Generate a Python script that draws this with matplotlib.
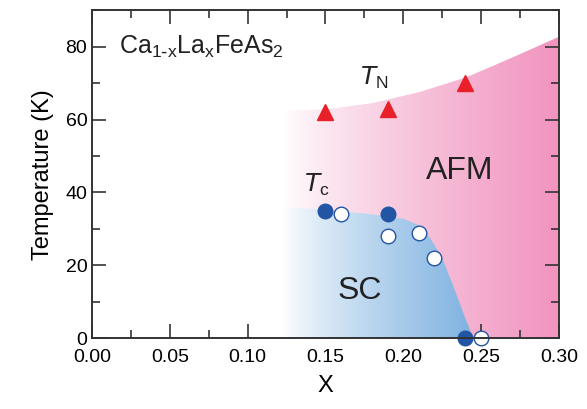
import numpy as np
import matplotlib.pyplot as plt
from matplotlib.path import Path
from matplotlib.patches import PathPatch

plt.rcParams['font.family'] = ['Liberation Sans', 'DejaVu Sans']

# Neel temperature (triangles)
tn_x = [0.15, 0.19, 0.24]
tn_y = [62, 63, 70]
# Tc filled circles
tc_fill_x = [0.15, 0.19, 0.24]
tc_fill_y = [35, 34, 0]
# Tc open circles
tc_open_x = [0.16, 0.19, 0.21, 0.22, 0.25]
tc_open_y = [34, 28, 29, 22, 0]

# AFM region upper boundary
afm_x = [0.123, 0.15, 0.18, 0.21, 0.24, 0.27, 0.30]
afm_y = [62.5, 62.8, 64.5, 67.5, 71.5, 77.0, 82.7]
# SC dome upper boundary
sc_x = [0.123, 0.15, 0.18, 0.20, 0.21, 0.217, 0.225, 0.232, 0.239, 0.245]
sc_y = [35.9, 35.3, 34.0, 32.8, 31.0, 27.7, 22.0, 14.5, 6.5, 0]

fig, ax = plt.subplots(figsize=(5.87, 4.09), dpi=100)
fig.subplots_adjust(left=0.157, right=0.952, top=0.975, bottom=0.173)

ax.set_xlim(0, 0.30)
ax.set_ylim(0, 90)


def gradient_region(xs, ys, c0, c1, zorder):
    verts = [(xs[0], 0)] + list(zip(xs, ys)) + [(xs[-1], 0), (xs[0], 0)]
    path = Path(verts)
    patch = PathPatch(path, facecolor='none', edgecolor='none')
    ax.add_patch(patch)
    n = 256
    t = np.linspace(0, 1, n) ** 0.8
    c0 = np.array(c0)
    c1 = np.array(c1)
    img = c0[None, :] + (c1 - c0)[None, :] * t[:, None]
    img = img[None, :, :]
    im = ax.imshow(img, extent=[xs[0], xs[-1], 0, max(ys)], aspect='auto',
                   origin='lower', zorder=zorder, interpolation='bilinear')
    im.set_clip_path(patch)


gradient_region(afm_x, afm_y, (1, 1, 1), (0.945, 0.58, 0.75), 1)
gradient_region(sc_x, sc_y, (1, 1, 1), (0.50, 0.70, 0.88), 2)

ax.plot(tn_x, tn_y, '^', color='#e8202a', markersize=12, zorder=5, clip_on=False)
ax.plot(tc_fill_x, tc_fill_y, 'o', color='#2255a4', markersize=10.5, zorder=5, clip_on=False)
ax.plot(tc_open_x, tc_open_y, 'o', markerfacecolor='white', markeredgecolor='#2255a4',
        markeredgewidth=1.0, markersize=10.5, zorder=6, clip_on=False)

ax.text(0.017, 80, r'Ca$_{\mathregular{1\text{-}x}}$La$_{\mathregular{x}}$FeAs$_{\mathregular{2}}$',
        fontsize=18, va='center', ha='left', color='#222222')
ax.text(0.172, 71.5, r'$T_{\mathregular{N}}$', fontsize=18, ha='left', va='center', color='#222222')
ax.text(0.136, 42, r'$T_{\mathregular{c}}$', fontsize=18, ha='left', va='center', color='#222222')
ax.text(0.236, 46, 'AFM', fontsize=23, ha='center', va='center', color='#222222')
ax.text(0.172, 13, 'SC', fontsize=23, ha='center', va='center', color='#222222')

ax.set_xticks(np.arange(0, 0.301, 0.05))
ax.set_xticks(np.arange(0, 0.301, 0.025), minor=True)
ax.set_yticks(np.arange(0, 81, 20))
ax.set_yticks(np.arange(0, 91, 10), minor=True)
ax.set_xticklabels(['%.2f' % v for v in np.arange(0, 0.301, 0.05)])
ax.tick_params(which='both', direction='in', top=True, right=True, labelsize=14,
               color='#333333', width=1.2)
ax.tick_params(which='major', length=10)
ax.tick_params(which='minor', length=6)
ax.tick_params(axis='x', pad=8)
for s in ax.spines.values():
    s.set_linewidth(1.4)
    s.set_color('#333333')
    s.set_zorder(10)

ax.set_xlabel('X', fontsize=17, labelpad=6)
ax.set_ylabel('Temperature (K)', fontsize=17, labelpad=8)

plt.savefig('out.png', dpi=100)
